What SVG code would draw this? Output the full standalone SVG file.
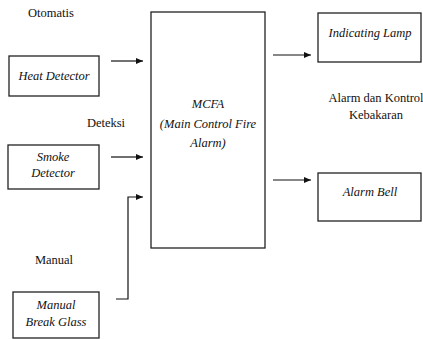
<svg xmlns="http://www.w3.org/2000/svg" width="423" height="339" viewBox="0 0 423 339">
<style>
.box{fill:#fff;stroke:#222;stroke-width:1.3}
.c{fill:none;stroke:#111;stroke-width:1.2}
</style>
<defs>
<marker id="ah" markerWidth="8" markerHeight="6" refX="7" refY="3" orient="auto" markerUnits="userSpaceOnUse">
<path d="M0,0 L7,3 L0,6 Z" fill="#111"/>
</marker>
</defs>
<rect width="423" height="339" fill="#fff"/>
<g id="labels" fill="#111" text-anchor="middle">
<text font-family="Liberation Serif, serif" font-size="12.5" x="51" y="17">Otomatis</text>
<text font-family="Liberation Serif, serif" font-size="12.5" x="106" y="127">Deteksi</text>
<text font-family="Liberation Serif, serif" font-size="12.5" x="54" y="264">Manual</text>
<text font-family="Liberation Serif, serif" font-size="12.5" x="376" y="102">Alarm dan Kontrol</text>
<text font-family="Liberation Serif, serif" font-size="12.5" x="376" y="119">Kebakaran</text>
</g>
<g id="heat" text-anchor="middle" fill="#111">
<rect class="box" x="9" y="56" width="90" height="40"/>
<text font-family="Liberation Serif, serif" font-style="italic" font-size="12.5" x="54" y="80">Heat Detector</text>
</g>
<g id="smoke" text-anchor="middle" fill="#111">
<rect class="box" x="8" y="145" width="91" height="44"/>
<text font-family="Liberation Serif, serif" font-style="italic" font-size="12.5" x="53" y="161">Smoke</text>
<text font-family="Liberation Serif, serif" font-style="italic" font-size="12.5" x="53" y="177">Detector</text>
</g>
<g id="manual" text-anchor="middle" fill="#111">
<rect class="box" x="13" y="292" width="86" height="46"/>
<text font-family="Liberation Serif, serif" font-style="italic" font-size="12.5" x="56" y="309">Manual</text>
<text font-family="Liberation Serif, serif" font-style="italic" font-size="12.5" x="56" y="326">Break Glass</text>
</g>
<g id="mcfa" text-anchor="middle" fill="#111">
<rect class="box" x="151" y="12" width="114" height="236"/>
<text font-family="Liberation Serif, serif" font-style="italic" font-size="12.5" x="208" y="108">MCFA</text>
<text font-family="Liberation Serif, serif" font-style="italic" font-size="12.5" x="208" y="128">(Main Control Fire</text>
<text font-family="Liberation Serif, serif" font-style="italic" font-size="12.5" x="208" y="147">Alarm)</text>
</g>
<g id="lamp" text-anchor="middle" fill="#111">
<rect class="box" x="318" y="13" width="103" height="49"/>
<text font-family="Liberation Serif, serif" font-style="italic" font-size="12.5" x="370" y="37">Indicating Lamp</text>
</g>
<g id="bell" text-anchor="middle" fill="#111">
<rect class="box" x="318" y="173" width="103" height="48"/>
<text font-family="Liberation Serif, serif" font-style="italic" font-size="12.5" x="370" y="196">Alarm Bell</text>
</g>
<g id="connectors">
<line class="c" x1="111" y1="61" x2="143" y2="61" marker-end="url(#ah)"/>
<line class="c" x1="111" y1="157" x2="143" y2="157" marker-end="url(#ah)"/>
<polyline class="c" points="116,299 128,299 128,197 143,197" marker-end="url(#ah)"/>
<line class="c" x1="273" y1="55" x2="311" y2="55" marker-end="url(#ah)"/>
<line class="c" x1="273" y1="180" x2="311" y2="180" marker-end="url(#ah)"/>
</g>
</svg>
